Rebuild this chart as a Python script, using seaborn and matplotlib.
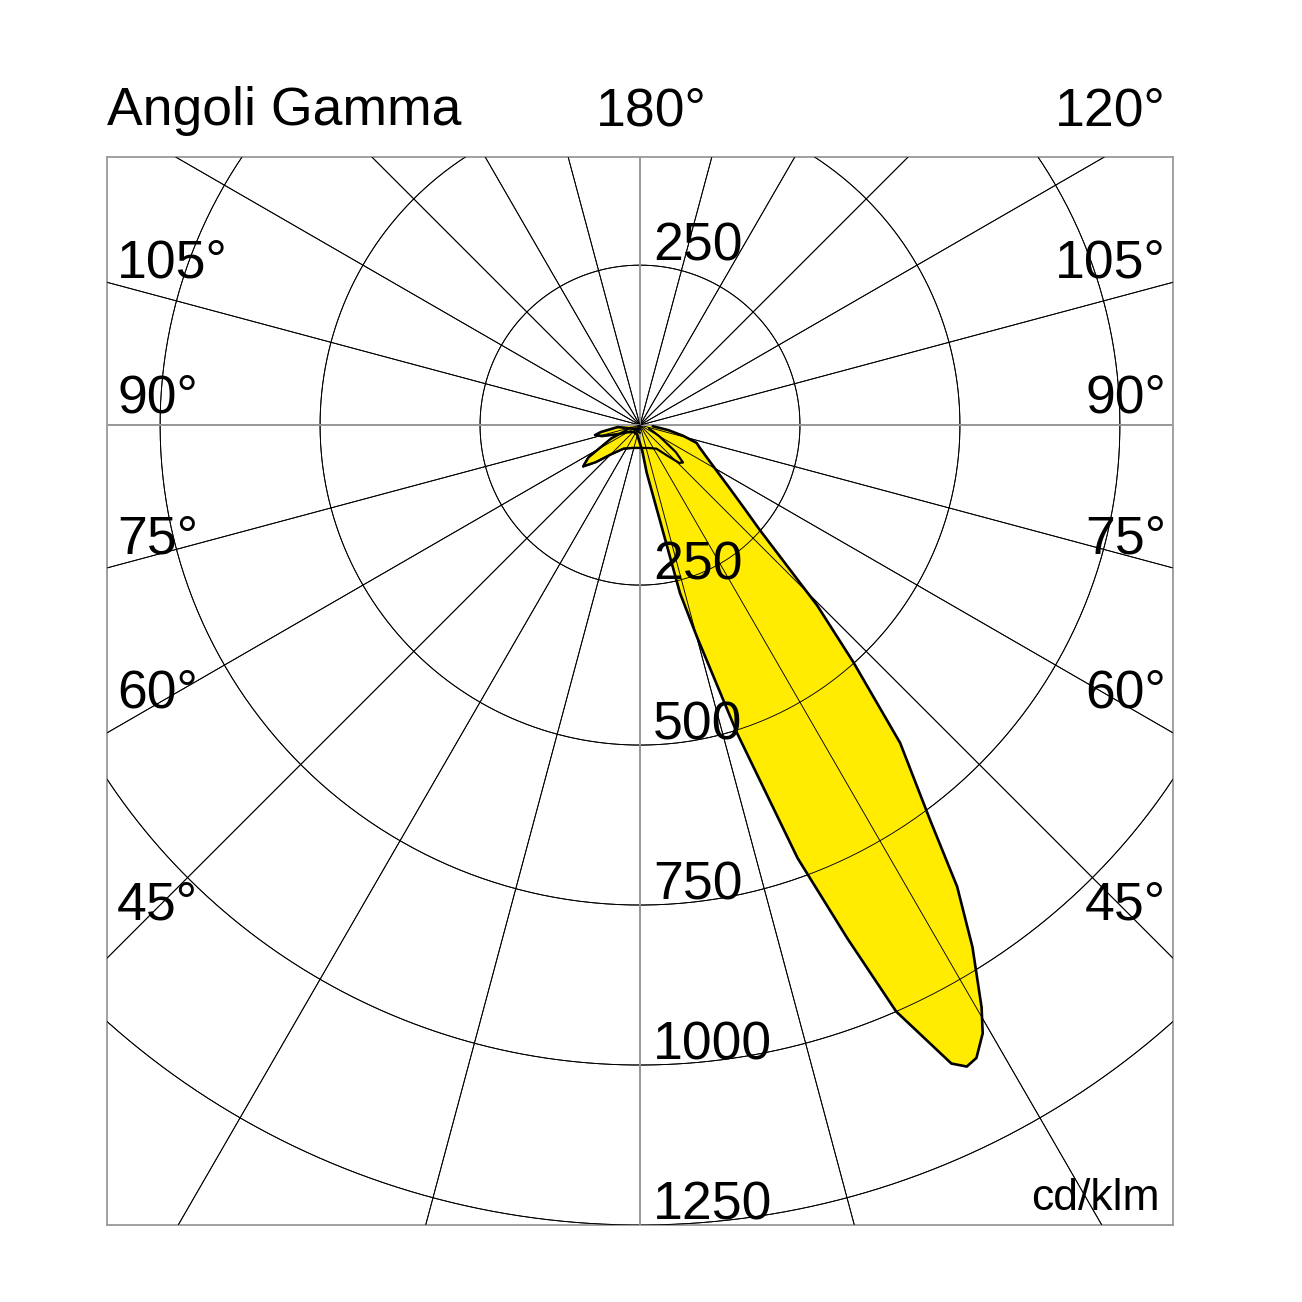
import numpy as np
import seaborn as sns
import matplotlib
matplotlib.use("Agg")
import matplotlib.pyplot as plt

# polar photometric data (cd/klm), gamma in degrees, 0 = straight down
# main plane: beam on the right side, small petal on the left
gamma_main = [-90, -85, -80, -77.5, -74, -68, -60, -45, -30, -15, 0,
              5, 8, 11, 13.4, 15, 17.5, 20, 22, 23.6, 26, 27, 28, 29.4, 30.4,
              32.5, 34.5, 36.3, 39.3, 42, 44.5, 48.8, 51.3, 55, 60, 65, 70,
              72.5, 76, 80, 85, 90]
intens_main = [0, 35, 62, 72, 62, 38, 22, 15, 14, 16, 20,
               40, 75, 125, 270, 340, 505, 720, 865, 1000, 1110, 1125, 1120, 1091, 1055,
               967, 875, 766, 642, 498, 395, 249, 210, 170, 135, 113, 98,
               93, 70, 45, 20, 0]

# second plane: two petals and a small arch under the centre
gamma_side = [-90, -75, -65, -58, -54, -50, -45, -35, -20, 0,
              20, 35, 42, 46, 49, 53, 60, 70, 90]
intens_side = [0, 15, 50, 95, 110, 90, 65, 45, 38, 36,
               38, 45, 65, 85, 89, 70, 35, 15, 0]

rings = [250, 500, 750, 1000, 1250]
ring_labels = ["250", "500", "750", "1000", "1250"]
left_angles = ["105°", "90°", "75°", "60°", "45°"]
right_angles = ["105°", "90°", "75°", "60°", "45°"]
angle_baselines = [278, 413, 553, 708, 920]

sns.set_style("white")
plt.rcParams['font.family'] = ['Liberation Sans', 'DejaVu Sans']

W = 1302
fig = plt.figure(figsize=(W / 100, W / 100), dpi=100)
ax = fig.add_axes([107 / W, 77 / W, 1066 / W, 1068 / W])
ax.set_xlim(-833, 833)
ax.set_ylim(-1250, 419)
ax.set_xticks([])
ax.set_yticks([])
for s in ax.spines.values():
    s.set_color('#999999')
    s.set_linewidth(1.3)

t = np.linspace(0, 2 * np.pi, 720)


def draw_grid(z):
    # rings
    for r in rings:
        ax.plot(r * np.cos(t), r * np.sin(t), color='black', lw=0.65, zorder=z)
    # radial lines every 15 deg
    for a in range(0, 360, 15):
        rad = np.deg2rad(a)
        if a % 90 == 0:
            ax.plot([0, 3000 * np.sin(rad)], [0, -3000 * np.cos(rad)], color='#999999', lw=1.3, zorder=z)
        else:
            ax.plot([0, 3000 * np.sin(rad)], [0, -3000 * np.cos(rad)], color='black', lw=0.65, zorder=z)


def to_xy(g, i):
    g = np.deg2rad(np.array(g, dtype=float))
    i = np.array(i, dtype=float)
    return i * np.sin(g), -i * np.cos(g)


draw_grid(1)

yellow = '#FFEC00'
xs, ys = to_xy(gamma_side, intens_side)
ax.fill(xs, ys, color=yellow, zorder=2)
sns.lineplot(x=xs, y=ys, sort=False, color='black', lw=1.6, ax=ax, zorder=3)

xm, ym = to_xy(gamma_main, intens_main)
ax.fill(xm, ym, color=yellow, zorder=4)

# grid stays visible through the lobe
draw_grid(5)
sns.lineplot(x=xm, y=ym, sort=False, color='black', lw=1.9, ax=ax, zorder=6)
sns.lineplot(x=xs, y=ys, sort=False, color='black', lw=1.6, ax=ax, zorder=6)


def ftext(x, y, s, size=38.5, **kw):
    fig.text(x / W, 1 - y / W, s, va='baseline', fontsize=size, color='black', **kw)


ftext(107, 125, "Angoli Gamma")
ftext(596, 125, "180°")
ftext(1166, 125, "120°", ha='right')
for lab, rl, yb in zip(left_angles, right_angles, angle_baselines):
    ftext(117, yb, lab)
    ftext(1166, yb, rl, ha='right')

# ring labels
ax.text(20, 250 + 8, "250", fontsize=38.5, va='baseline', color='black', zorder=7)
for r, lab in zip(rings, ring_labels):
    ax.text(20, -r + 8, lab, fontsize=38.5, va='baseline', color='black', zorder=7)

ftext(1160, 1210, "cd/klm", size=32, ha='right')

fig.savefig("out.png", dpi=100, facecolor='white')
